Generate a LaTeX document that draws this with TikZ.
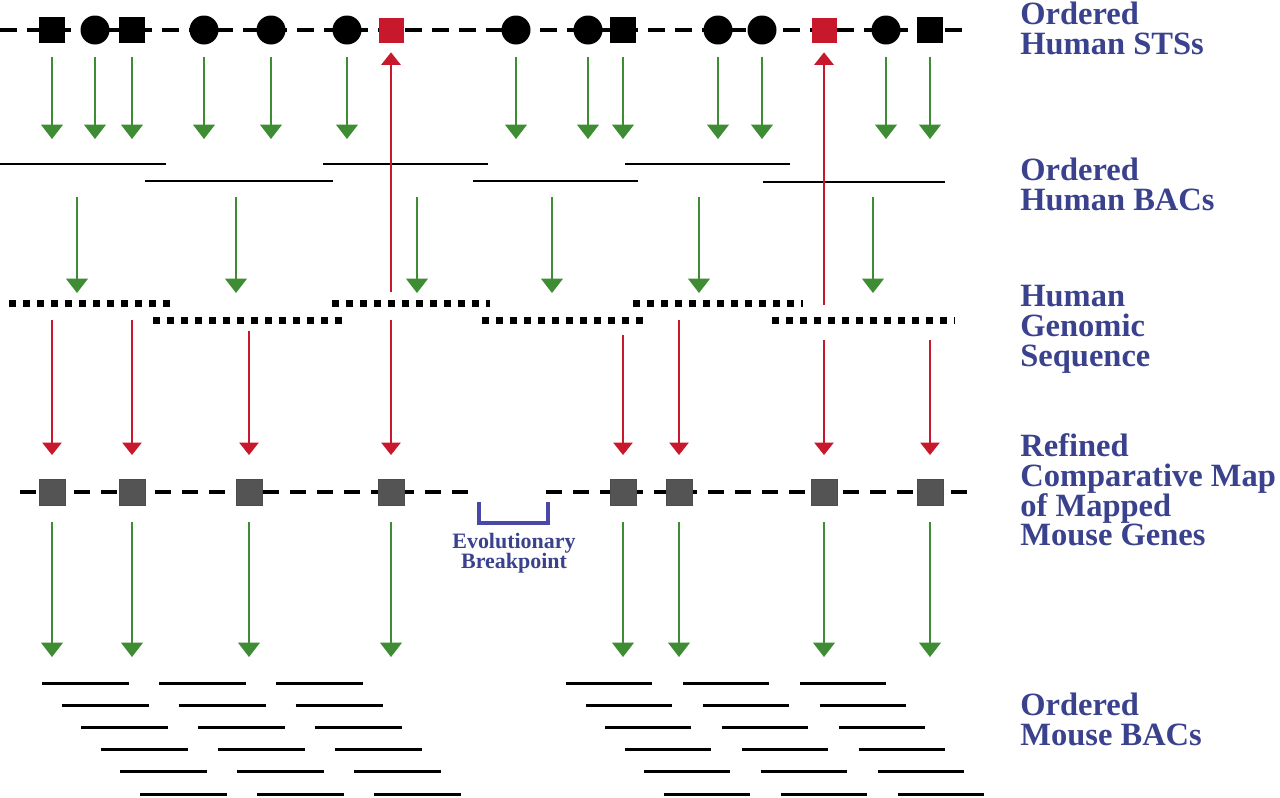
\documentclass[tikz,border=0pt]{standalone}
\usepackage{fontspec}
\setmainfont{Liberation Serif}
\usepackage{tikz}
\usetikzlibrary{arrows.meta,positioning,calc}

\definecolor{stsgreen}{RGB}{62,140,52}
\definecolor{seqred}{RGB}{200,24,44}
\definecolor{labelblue}{RGB}{58,66,142}
\definecolor{bpblue}{RGB}{72,72,168}
\definecolor{mapgray}{RGB}{84,84,84}

\begin{document}
\begin{tikzpicture}[x=0.2mm,y=-0.2mm,
  stsbox/.style={fill=black,minimum size=5.2mm,inner sep=0pt},
  stsdot/.style={circle,fill=black,minimum size=5.8mm,inner sep=0pt},
  stsred/.style={fill=seqred,minimum size=5mm,inner sep=0pt},
  genebox/.style={fill=mapgray,draw=black!70,line width=0.2pt,minimum size=5.2mm,inner sep=0pt},
  chrline/.style={line width=0.65mm,dash pattern=on 3.3mm off 2.1mm},
  bacline/.style={line width=0.3mm},
  seqline/.style={line width=1.4mm,dash pattern=on 1.35mm off 1.45mm},
  mbacline/.style={line width=0.6mm},
  garrow/.style={stsgreen,line width=0.3mm,-{Triangle[width=4.4mm,length=2.9mm]}},
  rarrow/.style={seqred,line width=0.25mm,-{Triangle[width=3.9mm,length=2.5mm]}},
  rowlabel/.style={anchor=north west,inner sep=0pt,align=left,text=labelblue,
    font=\fontsize{18.5}{17}\selectfont\bfseries}]

\useasboundingbox (0,0) rectangle (1280,797);

\coordinate (stsTop) at (0,57);  \coordinate (stsTip) at (0,139);
\coordinate (bacTop) at (0,197); \coordinate (bacTip) at (0,293);
\coordinate (redTip) at (0,455);
\coordinate (geneTop) at (0,522); \coordinate (geneTip) at (0,657);

% ordered human STSs
\draw[chrline] (0,30) -- (970,30);
\foreach \x/\kind [count=\i] in {52/stsbox,95/stsdot,132/stsbox,204/stsdot,271/stsdot,
    347/stsdot,391/stsred,516/stsdot,588/stsdot,623/stsbox,718/stsdot,762/stsdot,
    824/stsred,886/stsdot,930/stsbox}
  \node[\kind] (s\i) at (\x,30) {};
\foreach \i in {1,...,6,8,9,10,11,12,14,15}
  \draw[garrow] (s\i |- stsTop) -- (s\i |- stsTip);

% ordered human BACs
\draw[bacline] (0,164) -- (166,164);
\draw[bacline] (145,181) -- (333,181);
\draw[bacline] (323,164) -- (488,164);
\draw[bacline] (473,181) -- (638,181);
\draw[bacline] (625,164) -- (790,164);
\draw[bacline] (763,182) -- (945,182);
\foreach \x in {77,236,417,552,699,873}
  \draw[garrow] (\x,197) -- (\x,293);

% human genomic sequence
\draw[seqline] (9,303) -- (172,303);
\draw[seqline] (332,303) -- (490,303);
\draw[seqline] (633,303) -- (803,303);
\draw[seqline] (153,320) -- (343,320);
\draw[seqline] (482,320) -- (643,320);
\draw[seqline] (772,320) -- (955,320);

% refined comparative map
\draw[chrline,dash pattern=on 3.2mm off 2.2mm] (20,492) -- (478,492);
\draw[chrline,dash pattern=on 3.2mm off 2.2mm] (546,492) -- (970,492);
\foreach \x [count=\i] in {52,132,249,391,623,679,824,930}
  \node[genebox] (g\i) at (\x,492) {};

\coordinate (seqA) at (391,292);
\coordinate (seqB) at (824,305);
\draw[rarrow,shorten >=1.9mm] (seqA) -- (s7);
\draw[rarrow,shorten >=1.9mm] (seqB) -- (s13);
\foreach \i/\y in {1/320,2/320,3/331,4/320,5/335,6/320,7/340,8/340}{
  \coordinate (rs\i) at (g\i |- 0,\y);
  \draw[rarrow] (rs\i) -- (g\i |- redTip);
}
\foreach \i in {1,...,8}
  \draw[garrow] (g\i |- geneTop) -- (g\i |- geneTip);

\draw[bpblue,line width=0.8mm] (479,502) -- (479,523) -- (548,523) -- (548,502);
\coordinate (brk) at (514,523);
\node[below=2mm of brk,inner sep=0pt,align=center,text=labelblue,
  font=\fontsize{12.5}{11.5}\selectfont\bfseries] (bp) {Evolutionary\\Breakpoint};

% ordered mouse BACs
\foreach \r in {0,...,5}
  \foreach \g in {0,1,2}{
    \draw[mbacline] ({42+19.5*\r+117*\g},{683+22.2*\r}) -- ++(87,0);
    \draw[mbacline] ({566+19.5*\r+117*\g},{683+22.2*\r}) -- ++(86,0);
  }

\node[rowlabel] (lsts) at (1020,2) {Ordered\\Human STSs};
\node[rowlabel] (lbac) at (1020,158) {Ordered\\Human BACs};
\node[rowlabel] (lseq) at (1020,285) {Human\\Genomic\\Sequence};
\node[rowlabel] (lmap) at (1020,433) {Refined\\Comparative Map\\of Mapped\\Mouse Genes};
\node[rowlabel] (lmbac) at (1020,693) {Ordered\\Mouse BACs};
\end{tikzpicture}
\end{document}
